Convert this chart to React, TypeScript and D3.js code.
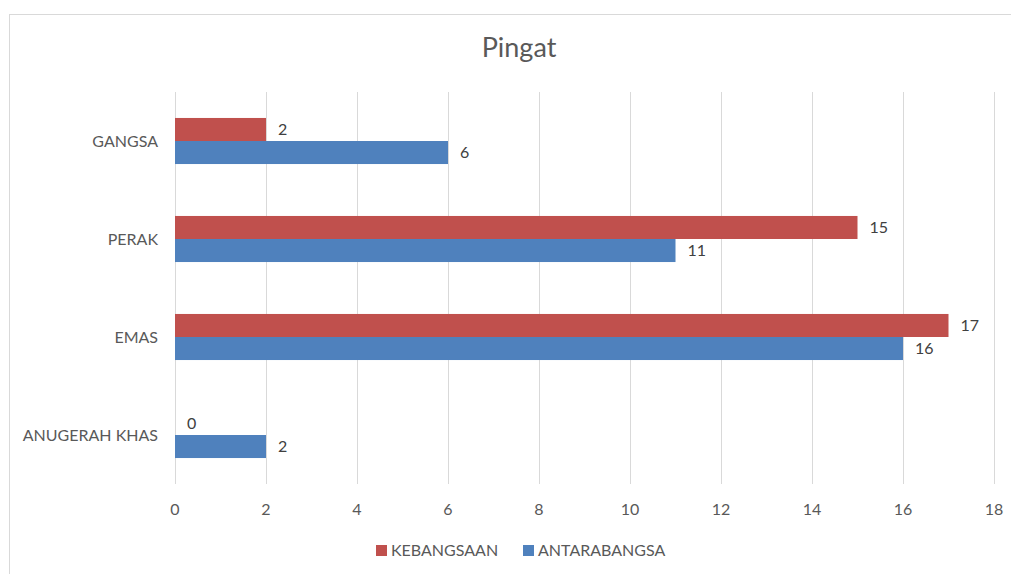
import React from 'react';
import * as d3 from 'd3';

// chart data
const categories = ['GANGSA', 'PERAK', 'EMAS', 'ANUGERAH KHAS'];
const kebangsaan = [2, 15, 17, 0];
const antarabangsa = [6, 11, 16, 2];
const xTicks = [0, 2, 4, 6, 8, 10, 12, 14, 16, 18];
const seriesNames = ['KEBANGSAAN', 'ANTARABANGSA'];

const width = 1011;
const height = 574;
const margin = { top: 92, right: 17, bottom: 90, left: 175 };
const font = 'Lato, "Open Sans", sans-serif';
const textColor = '#595959';
const colors = ['#C0504D', '#4F81BD'];

const App = () => {
  const plotW = width - margin.left - margin.right;
  const plotH = height - margin.top - margin.bottom;

  const xScale = d3.scaleLinear().domain([0, 18]).range([0, plotW]);
  const yScale = d3.scaleBand().domain(categories).range([0, plotH]);
  const barH = yScale.bandwidth() * 0.235;

  const series = [kebangsaan, antarabangsa];

  return (
    <svg width={width} height={height} style={{ position: 'absolute', left: 0, top: 0, background: '#fff' }}>
      <rect x={9.5} y={14.5} width={width + 10} height={height + 10} fill="#fff" stroke="#d9d9d9" />
      <text x={519} y={57} textAnchor="middle" fontFamily={font} fontSize={27} fill={textColor}>
        Pingat
      </text>
      <g transform={`translate(${margin.left}, ${margin.top})`}>
        {xTicks.map(t => (
          <g key={t}>
            <line x1={xScale(t) + 0.5} x2={xScale(t) + 0.5} y1={0} y2={plotH} stroke="#d9d9d9" strokeWidth={1} />
            <text x={xScale(t)} y={plotH + 31} textAnchor="middle" fontFamily={font} fontSize={16} fill={textColor}>
              {t}
            </text>
          </g>
        ))}
        {categories.map((c, i) => {
          const mid = (yScale(c) as number) + yScale.bandwidth() / 2;
          return (
            <g key={c}>
              <text x={-17} y={mid} dy="0.35em" textAnchor="end" fontFamily={font} fontSize={16} fill={textColor}>
                {c}
              </text>
              {series.map((s, j) => {
                const y = mid - barH + j * barH;
                return (
                  <g key={j}>
                    <rect x={xScale(0)} y={y} width={xScale(s[i]) - xScale(0)} height={barH} fill={colors[j]} />
                    <text x={xScale(s[i]) + 12} y={y + barH / 2} dy="0.35em" fontFamily={font} fontSize={16} fill="#404040">
                      {s[i]}
                    </text>
                  </g>
                );
              })}
            </g>
          );
        })}
      </g>
      <g transform="translate(376, 545)">
        {seriesNames.map((n, i) => (
          <g key={n} transform={`translate(${i * 147}, 0)`}>
            <rect x={0} y={0} width={11} height={11} fill={colors[i]} />
            <text x={15} y={5.5} dy="0.35em" fontFamily={font} fontSize={16} fill={textColor}>
              {n}
            </text>
          </g>
        ))}
      </g>
    </svg>
  );
};

export default App;
